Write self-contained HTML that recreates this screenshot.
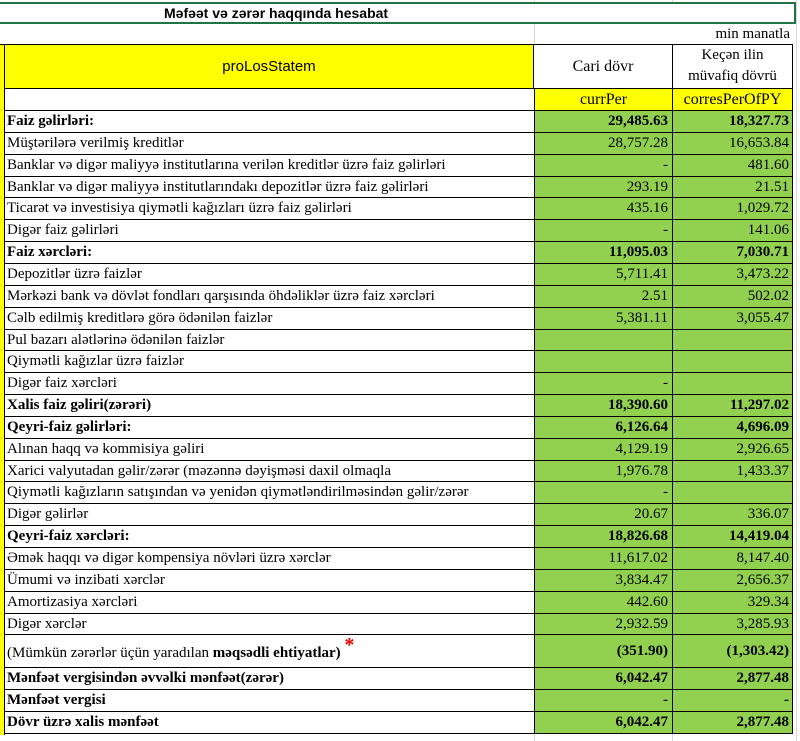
<!DOCTYPE html>
<html><head><meta charset="utf-8"><style>
body{margin:0;width:800px;height:741px;background:#fff;overflow:hidden;position:relative;font-family:"Liberation Serif",serif;font-size:15px;color:#000}
.r{position:absolute;left:0;width:800px;box-sizing:border-box}
.c{position:absolute;top:0;bottom:0;box-sizing:border-box;white-space:nowrap;overflow:visible;display:flex;align-items:center}
.l{left:5px;width:529px;padding-left:2px;border-bottom:1px solid #000}
.a{left:534px;width:138px;justify-content:flex-end;padding-right:4px;background:#92D050;border-left:1px solid #000;border-bottom:1px solid #000}
.b{left:672px;width:121px;justify-content:flex-end;padding-right:3px;background:#92D050;border-left:1px solid #000;border-right:1px solid #000;border-bottom:1px solid #000}
.strip{position:absolute;left:0;width:5px;background:#FFFF00;border-right:1px solid #000;box-sizing:border-box}
.bd{font-weight:bold}
.grid{position:absolute;top:0;height:741px;width:1px;background:#d8d8d8}
</style></head><body>
<div class="grid" style="left:534px"></div><div class="grid" style="left:672px"></div><div class="grid" style="left:796px"></div>
<div style="position:absolute;left:0;top:2px;width:796px;height:22px;border-top:2px solid #217346;border-bottom:2px solid #217346;border-right:2px solid #217346;box-sizing:border-box;background:#fff;font-family:'Liberation Sans',sans-serif;font-weight:bold;font-size:14px;line-height:18px;padding-left:164px">Məfəət və zərər haqqında hesabat</div>
<div style="position:absolute;left:534px;top:24px;width:260px;height:21px;text-align:right;font-size:15px;line-height:21px;padding-right:4px;box-sizing:border-box;background:#fff;border-left:1px solid #d8d8d8">min manatla</div>
<div style="position:absolute;left:0;top:44px;width:793px;height:1px;background:#000"></div>
<div style="position:absolute;left:0;top:45px;width:534px;height:44px;background:#FFFF00;border-left:5px solid #FFFF00;box-sizing:border-box;display:flex;align-items:center;justify-content:center;font-family:'Liberation Sans',sans-serif;font-size:15px;border-right:1px solid #000;border-bottom:1px solid #000">proLosStatem</div>
<div style="position:absolute;left:534px;top:45px;width:138px;height:44px;display:flex;align-items:center;justify-content:center;background:#fff;border-bottom:1px solid #000;box-sizing:border-box;font-size:16px">Cari dövr</div>
<div style="position:absolute;left:672px;top:45px;width:121px;height:44px;text-align:center;line-height:21px;background:#fff;border-left:1px solid #000;border-right:1px solid #000;border-bottom:1px solid #000;box-sizing:border-box;font-size:15px">Keçən ilin<br>müvafiq dövrü</div>
<div style="position:absolute;left:0;top:89px;width:534px;height:22px;border-bottom:1px solid #000;border-left:5px solid #FFFF00;box-sizing:border-box;background:#fff"></div>
<div style="position:absolute;left:534px;top:89px;width:138px;height:22px;background:#FFFF00;border-left:1px solid #000;border-bottom:1px solid #000;box-sizing:border-box;display:flex;align-items:center;justify-content:center;font-size:16px">currPer</div>
<div style="position:absolute;left:672px;top:89px;width:121px;height:22px;background:#FFFF00;border-left:1px solid #000;border-right:1px solid #000;border-bottom:1px solid #000;box-sizing:border-box;display:flex;align-items:center;justify-content:center;font-size:16px">corresPerOfPY</div>
<div class="strip" style="top:45px;height:690px"></div>
<div id="rows"></div>
<script>
var d=[
["Faiz gəlirləri:","29,485.63","18,327.73",1],
["Müştərilərə verilmiş kreditlər","28,757.28","16,653.84"],
["Banklar və digər maliyyə institutlarına verilən kreditlər üzrə faiz gəlirləri","-","481.60"],
["Banklar və digər maliyyə institutlarındakı depozitlər üzrə faiz gəlirləri","293.19","21.51"],
["Ticarət və investisiya qiymətli kağızları üzrə faiz gəlirləri","435.16","1,029.72"],
["Digər faiz gəlirləri","-","141.06"],
["Faiz xərcləri:","11,095.03","7,030.71",1],
["Depozitlər üzrə faizlər","5,711.41","3,473.22"],
["Mərkəzi bank və dövlət fondları qarşısında öhdəliklər üzrə faiz xərcləri","2.51","502.02"],
["Cəlb edilmiş kreditlərə görə ödənilən faizlər","5,381.11","3,055.47"],
["Pul bazarı alətlərinə ödənilən faizlər","",""],
["Qiymətli kağızlar üzrə faizlər","",""],
["Digər faiz xərcləri","-",""],
["Xalis faiz gəliri(zərəri)","18,390.60","11,297.02",1],
["Qeyri-faiz gəlirləri:","6,126.64","4,696.09",1],
["Alınan haqq və kommisiya gəliri","4,129.19","2,926.65"],
["Xarici valyutadan gəlir/zərər (məzənnə dəyişməsi daxil olmaqla","1,976.78","1,433.37"],
["Qiymətli kağızların satışından və yenidən qiymətləndirilməsindən gəlir/zərər","-",""],
["Digər gəlirlər","20.67","336.07"],
["Qeyri-faiz xərcləri:","18,826.68","14,419.04",1],
["Əmək haqqı və digər kompensiya növləri üzrə xərclər","11,617.02","8,147.40"],
["Ümumi və inzibati xərclər","3,834.47","2,656.37"],
["Amortizasiya xərcləri","442.60","329.34"],
["Digər xərclər","2,932.59","3,285.93"],
["<span>(Mümkün zərərlər üçün yaradılan <b>məqsədli ehtiyatlar)</b> <span style='color:#e00;font-size:20px;font-weight:bold;position:relative;top:-6px'>*</span></span>","(351.90)","(1,303.42)",2],
["Mənfəət vergisindən əvvəlki mənfəət(zərər)","6,042.47","2,877.48",1],
["Mənfəət vergisi","-","-",1],
["Dövr üzrə xalis mənfəət","6,042.47","2,877.48",1]];
var y=111,h="";
d.forEach(function(r,i){var ht=(i==24)?33:21.85;var yy=Math.round(y),hh=Math.round(y+ht)-yy;
var bl=r[3]==1?" bd":"";var bv=r[3]?" bd":"";
h+='<div class="r" style="top:'+yy+'px;height:'+hh+'px"><div class="c l'+bl+'" style="background:#fff">'+r[0]+'</div><div class="c a'+bv+'">'+r[1]+'</div><div class="c b'+bv+'">'+r[2]+'</div></div>';y+=ht;});
document.getElementById('rows').innerHTML=h;
</script>
</body></html>
